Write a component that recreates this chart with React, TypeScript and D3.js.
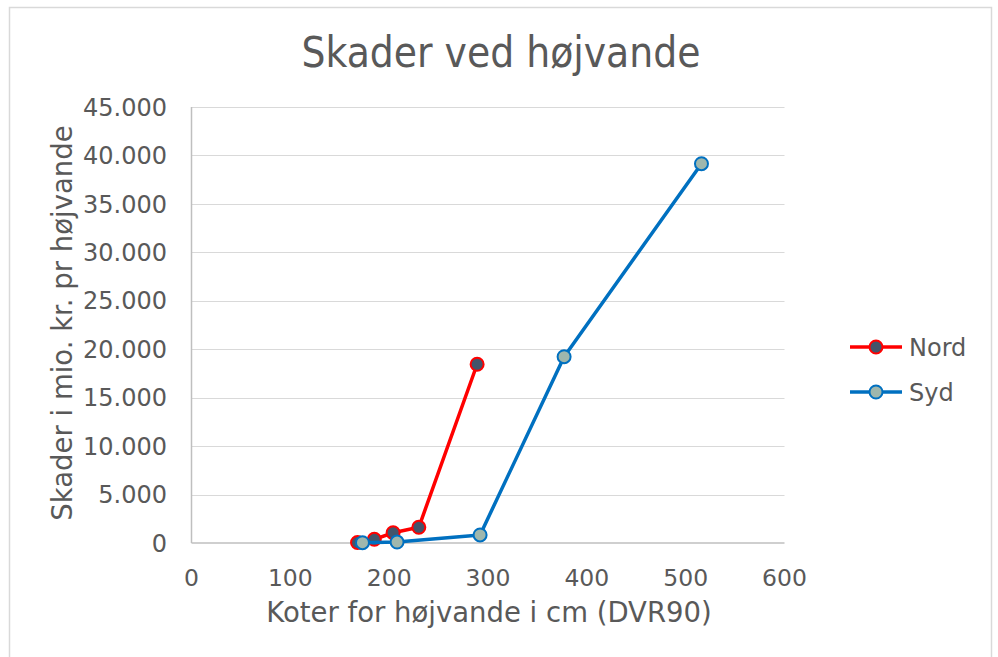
import { useRef, useEffect } from "react";
import * as d3 from "d3";

const nordPoints: [number, number][] = [
  [168, 50],
  [185, 380],
  [204, 1060],
  [230, 1620],
  [289, 18450],
];
const sydPoints: [number, number][] = [
  [173, 30],
  [208, 100],
  [292, 830],
  [377, 19230],
  [516, 39150],
];
const xTicks = [0, 100, 200, 300, 400, 500, 600];
const yTicks = [0, 5000, 10000, 15000, 20000, 25000, 30000, 35000, 40000, 45000];

const series = [
  { name: "Nord", data: nordPoints, stroke: "#ff0000", fill: "#44546a" },
  { name: "Syd", data: sydPoints, stroke: "#0070c0", fill: "#9fb7ad" },
];

const fmt = (v: number) => (v === 0 ? "0" : d3.format(",")(v).replace(/,/g, "."));

export default function App() {
  const svgRef = useRef<SVGSVGElement>(null);

  useEffect(() => {
    if (!svgRef.current) return;
    const width = 998;
    const height = 657;
    const svg = d3.select(svgRef.current);
    svg.selectAll("*").remove();
    svg.attr("width", width).attr("height", height);

    const font = "'DejaVu Sans', Verdana, sans-serif";
    const textColor = "#595959";

    // chart frame
    svg
      .append("rect")
      .attr("x", 9.5)
      .attr("y", 7.5)
      .attr("width", 982)
      .attr("height", 660)
      .attr("fill", "#fff")
      .attr("stroke", "#d9d9d9")
      .attr("stroke-width", 1.5);

    const x = d3.scaleLinear().domain([0, 600]).range([191.5, 784.5]);
    const y = d3.scaleLinear().domain([0, 45000]).range([543, 107]);

    // gridlines
    svg
      .append("g")
      .selectAll("line")
      .data(yTicks.filter((d) => d > 0))
      .join("line")
      .attr("x1", x(0))
      .attr("x2", x(600))
      .attr("y1", (d) => Math.round(y(d)) + 0.5)
      .attr("y2", (d) => Math.round(y(d)) + 0.5)
      .attr("stroke", "#d9d9d9")
      .attr("stroke-width", 1);

    // axis lines
    svg
      .append("line")
      .attr("x1", x(0))
      .attr("x2", x(600))
      .attr("y1", y(0))
      .attr("y2", y(0))
      .attr("stroke", "#bfbfbf")
      .attr("stroke-width", 1.5);
    svg
      .append("line")
      .attr("x1", x(0))
      .attr("x2", x(0))
      .attr("y1", y(0))
      .attr("y2", y(45000))
      .attr("stroke", "#bfbfbf")
      .attr("stroke-width", 1.5);

    // tick labels
    svg
      .append("g")
      .selectAll("text")
      .data(yTicks)
      .join("text")
      .attr("x", 167)
      .attr("y", (d) => y(d))
      .attr("dy", "0.36em")
      .attr("text-anchor", "end")
      .attr("fill", textColor)
      .style("font-family", font)
      .style("font-size", "24px")
      .text((d) => fmt(d));

    svg
      .append("g")
      .selectAll("text")
      .data(xTicks)
      .join("text")
      .attr("x", (d) => x(d))
      .attr("y", 578)
      .attr("dy", "0.36em")
      .attr("text-anchor", "middle")
      .attr("fill", textColor)
      .style("font-family", font)
      .style("font-size", "23.5px")
      .text((d) => String(d));

    // titles
    svg
      .append("text")
      .attr("x", 501)
      .attr("y", 52)
      .attr("dy", "0.36em")
      .attr("text-anchor", "middle")
      .attr("fill", textColor)
      .style("font-family", "'DejaVu Sans Condensed', 'DejaVu Sans', sans-serif")
      .style("font-stretch", "condensed")
      .style("font-size", "42px")
      .text("Skader ved højvande");

    svg
      .append("text")
      .attr("x", 489)
      .attr("y", 612)
      .attr("dy", "0.36em")
      .attr("text-anchor", "middle")
      .attr("fill", textColor)
      .style("font-family", font)
      .style("font-size", "27.5px")
      .text("Koter for højvande i cm (DVR90)");

    svg
      .append("text")
      .attr("transform", `translate(62, 323) rotate(-90)`)
      .attr("dy", "0.36em")
      .attr("text-anchor", "middle")
      .attr("fill", textColor)
      .style("font-family", font)
      .style("font-size", "27.5px")
      .text("Skader i mio. kr. pr højvande");

    // series
    const line = d3
      .line<[number, number]>()
      .x((d) => x(d[0]))
      .y((d) => y(d[1]));

    series.forEach((s) => {
      const g = svg.append("g");
      g.append("path")
        .datum(s.data)
        .attr("fill", "none")
        .attr("stroke", s.stroke)
        .attr("stroke-width", 3.5)
        .attr("stroke-linejoin", "round")
        .attr("d", line);
      g.selectAll("circle")
        .data(s.data)
        .join("circle")
        .attr("cx", (d) => x(d[0]))
        .attr("cy", (d) => y(d[1]))
        .attr("r", 6.5)
        .attr("fill", s.fill)
        .attr("stroke", s.stroke)
        .attr("stroke-width", 2);
    });

    // legend
    const legend = svg
      .append("g")
      .selectAll("g")
      .data(series)
      .join("g")
      .attr("transform", (_d, i) => `translate(850, ${347 + i * 45})`);
    legend
      .append("line")
      .attr("x1", 0)
      .attr("x2", 52)
      .attr("stroke", (d) => d.stroke)
      .attr("stroke-width", 3.5);
    legend
      .append("circle")
      .attr("cx", 26)
      .attr("r", 6.5)
      .attr("fill", (d) => d.fill)
      .attr("stroke", (d) => d.stroke)
      .attr("stroke-width", 2);
    legend
      .append("text")
      .attr("x", 59)
      .attr("dy", "0.36em")
      .attr("fill", textColor)
      .style("font-family", font)
      .style("font-size", "24px")
      .text((d) => d.name);
  }, []);

  return (
    <div style={{ position: "fixed", left: 0, top: 0 }}>
      <svg ref={svgRef} style={{ display: "block" }} />
    </div>
  );
}
